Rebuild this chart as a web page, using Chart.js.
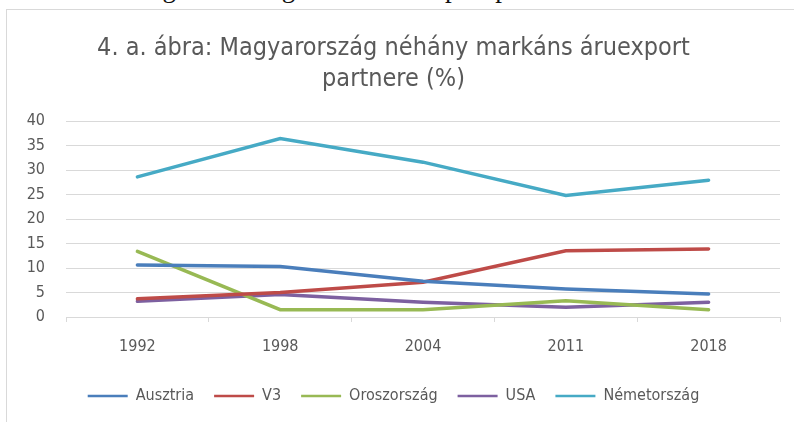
<!DOCTYPE html>
<html>
<head>
<meta charset="utf-8">
<script src="https://cdn.jsdelivr.net/npm/chart.js@4.4.1/dist/chart.umd.min.js"></script>
<style>
  body { margin: 0; background: #fff; width: 794px; height: 422px; overflow: hidden; position: relative; }
  #cap { position: absolute; left: 8px; top: -25px; font: 27px "Liberation Serif", serif; line-height: 27px; color: #111; white-space: nowrap; }
  #frame { position: absolute; left: 6px; top: 9px; width: 800px; height: 420px; border: 1px solid #d9d9d9; background: #fff; }
  #wrap { position: absolute; left: 7px; top: 10px; width: 787px; height: 412px; }
</style>
</head>
<body>
<div id="cap">5. ábra: A visegrádi országok főbb áruexport partnerei</div>
<div id="frame"></div>
<div id="wrap"><canvas id="chartId"></canvas></div>
<script>
var years = ["1992", "1998", "2004", "2011", "2018"];
var ausztria = [10.6, 10.3, 7.3, 5.7, 4.7];
var v3 = [3.7, 5.0, 7.1, 13.5, 13.9];
var oroszorszag = [13.4, 1.5, 1.5, 3.3, 1.5];
var usa = [3.2, 4.6, 3.0, 2.0, 3.0];
var nemetorszag = [28.6, 36.4, 31.6, 24.8, 27.9];
var yTicks = [0, 5, 10, 15, 20, 25, 30, 35, 40];

var grey = "#595959";
var font = '"DejaVu Sans Condensed", sans-serif';

function line(label, data, color) {
    return {
        label: label,
        data: data,
        borderColor: color,
        backgroundColor: color,
        borderWidth: 3.5,
        pointRadius: 0,
        tension: 0,
        borderCapStyle: 'round'
    };
}

var chrt = document.getElementById("chartId").getContext("2d");
var chartId = new Chart(chrt, {
    type: 'line',
    data: {
        labels: years,
        datasets: [
            line("Ausztria", ausztria, "#4a7ebb"),
            line("V3", v3, "#be4b48"),
            line("Oroszország", oroszorszag, "#98b954"),
            line("USA", usa, "#7d60a0"),
            line("Németország", nemetorszag, "#46aac5")
        ]
    },
    options: {
        responsive: true,
        maintainAspectRatio: false,
        animation: false,
        layout: { padding: { left: 0, right: 14, top: 0, bottom: 8 } },
        plugins: {
            title: {
                display: true,
                text: ["4. a. ábra: Magyarország néhány markáns áruexport", "partnere (%)"],
                color: grey,
                font: { family: font, size: 25, weight: 'normal', lineHeight: 1.24 },
                padding: { top: 23, bottom: 26 }
            },
            legend: {
                position: 'bottom',
                labels: {
                    color: grey,
                    font: { family: font, size: 16 },
                    usePointStyle: true,
                    pointStyle: 'line',
                    pointStyleWidth: 40,
                    boxHeight: 14,
                    padding: 20,
                    generateLabels: function (chart) {
                        var items = Chart.defaults.plugins.legend.labels.generateLabels(chart);
                        items.forEach(function (it) { it.lineWidth = 2.5; });
                        return items;
                    }
                }
            },
            tooltip: { enabled: false }
        },
        scales: {
            x: {
                offset: true,
                grid: { offset: true, drawOnChartArea: false, drawTicks: true, tickLength: 5, color: "#d9d9d9" },
                border: { color: "#d9d9d9" },
                ticks: { color: grey, font: { family: font, size: 16 }, padding: 15, maxRotation: 0 },
                afterFit: function (scale) { scale.height = 51; }
            },
            y: {
                min: 0,
                max: 40,
                afterBuildTicks: function (scale) { scale.ticks = yTicks.map(function (v) { return { value: v }; }); },
                grid: { color: "#d9d9d9", drawTicks: false },
                border: { display: false },
                ticks: { color: grey, font: { family: font, size: 16 }, padding: 21 },
                afterFit: function (scale) { scale.width = 59; }
            }
        }
    }
});
</script>
</body>
</html>
